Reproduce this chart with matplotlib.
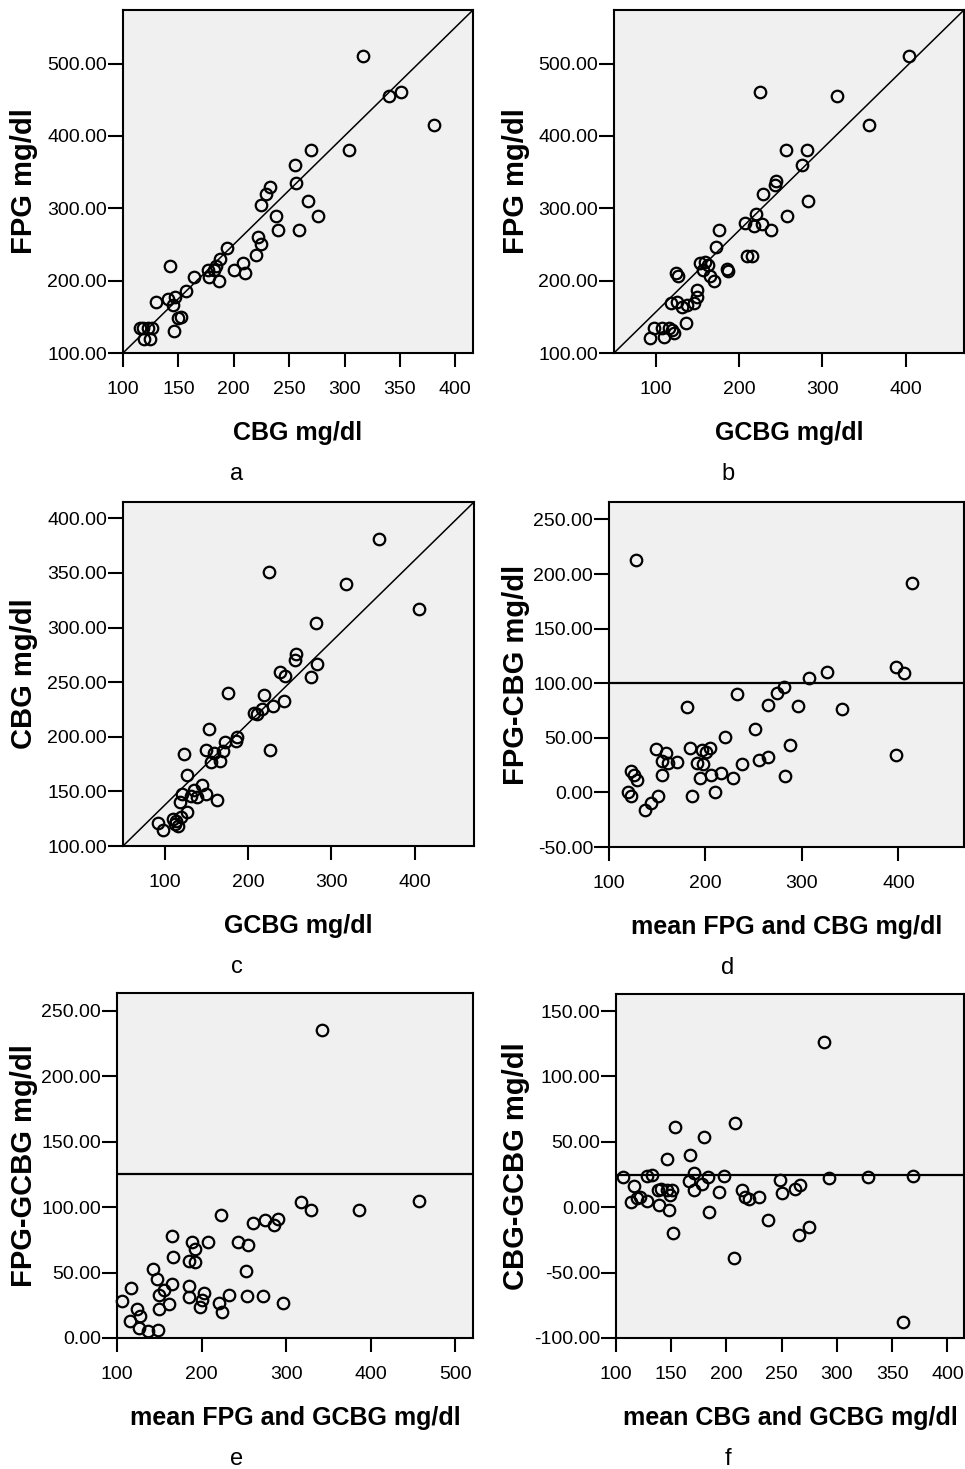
import matplotlib
matplotlib.use("Agg")
import matplotlib.pyplot as plt
from matplotlib.ticker import FormatStrFormatter

plt.rcParams['font.family'] = ['Liberation Sans', 'DejaVu Sans']

# ---------------- data ----------------
a_cbg = [317, 340, 351, 381, 304, 270, 255, 256, 233, 229, 225, 267, 238, 276, 240,
         259, 222, 225, 220, 194, 208, 210, 200, 188, 184, 182, 177, 178, 187, 164,
         142, 157, 147, 141, 145, 130, 152, 150, 146, 115, 118, 123, 126, 119, 124]
a_fpg = [510, 455, 460, 415, 380, 380, 360, 335, 330, 320, 305, 310, 290, 290, 270,
         270, 260, 250, 235, 245, 225, 210, 215, 230, 220, 215, 215, 205, 200, 205,
         220, 185, 177, 174, 167, 170, 150, 148, 130, 135, 135, 135, 135, 120, 120]

b_gcbg = [404, 225, 317, 356, 256, 282, 276, 244, 243, 229, 283, 257, 220, 207, 218,
          227, 238, 176, 172, 209, 215, 153, 159, 163, 157, 165, 170, 186, 187, 124,
          127, 149, 150, 146, 138, 132, 125, 118, 136, 98, 108, 116, 120, 122, 93, 110]
b_fpg = [510, 460, 455, 415, 380, 380, 360, 337, 332, 320, 310, 289, 292, 280, 276,
         278, 270, 270, 246, 234, 234, 225, 226, 222, 215, 206, 200, 216, 214, 210,
         206, 187, 177, 169, 167, 164, 171, 169, 141, 135, 135, 134, 132, 128, 121, 122]

c_gcbg = [357, 225, 317, 405, 282, 258, 256, 283, 276, 238, 244, 176, 219, 243, 230,
          207, 211, 217, 153, 187, 186, 172, 170, 149, 226, 123, 159, 155, 166, 127,
          145, 135, 131, 139, 150, 163, 121, 118, 127, 119, 110, 114, 116, 92, 98, 112]
c_cbg = [381, 351, 340, 317, 304, 276, 270, 267, 255, 259, 256, 240, 238, 233, 228,
         222, 221, 225, 207, 200, 196, 195, 187, 188, 188, 184, 185, 177, 178, 165,
         156, 151, 146, 145, 148, 142, 148, 140, 131, 127, 125, 123, 118, 121, 115, 120]

d_mean = [128, 414, 398, 406, 326, 307, 281, 274, 233, 265, 296, 181, 342, 251, 220,
          288, 184, 149, 196, 205, 201, 159, 398, 265, 255, 155, 161, 171, 191, 197,
          238, 123, 126, 129, 155, 206, 216, 194, 229, 282, 120, 123, 210, 186, 151,
          144, 137]
d_diff = [213, 192, 115, 109, 110, 105, 97, 91, 90, 80, 79, 78, 76, 58, 51,
          43, 41, 40, 39, 41, 37, 36, 34, 32, 30, 29, 27, 28, 27, 26,
          26, 20, 16, 11, 16, 16, 18, 13, 13, 15, 0, -3, 0, -3, -3,
          -10, -16]

e_mean = [342, 457, 318, 330, 386, 223, 261, 275, 290, 286, 165, 189, 192, 208, 243,
          255, 166, 185, 192, 143, 147, 252, 116, 165, 185, 156, 150, 203, 233, 254,
          273, 185, 200, 106, 161, 221, 296, 198, 224, 124, 127, 150, 115, 126, 137, 148]
e_diff = [235, 105, 104, 98, 98, 94, 88, 90, 91, 86, 78, 73, 68, 73, 73,
          71, 62, 59, 58, 53, 45, 51, 38, 41, 40, 37, 33, 34, 33, 32,
          32, 31, 29, 28, 26, 27, 27, 24, 20, 22, 17, 22, 13, 8, 5, 6]

f_mean = [288, 208, 153, 180, 167, 146, 106, 128, 133, 171, 183, 198, 248, 293, 328,
          369, 166, 178, 116, 141, 138, 146, 151, 171, 193, 214, 250, 262, 267, 149,
          119, 122, 114, 128, 217, 220, 229, 139, 148, 184, 238, 275, 266, 152, 207, 360]
f_diff = [126, 64, 61, 54, 40, 37, 23, 24, 25, 26, 23, 24, 21, 22, 23,
          24, 20, 18, 16, 14, 13, 13, 13, 13, 12, 13, 11, 14, 17, 9,
          7, 8, 4, 5, 8, 6, 8, 2, -2, -4, -10, -15, -21, -20, -39, -88]

d_ref = 100
e_ref = 125
f_ref = 25

panels = [
    dict(x=a_cbg, y=a_fpg, xl="CBG mg/dl", yl="FPG mg/dl", tag="a",
         xlim=(100, 416), ylim=(100, 574), xt=[100, 150, 200, 250, 300, 350, 400],
         yt=[100, 200, 300, 400, 500], diag=True, href=None,
         box=(123, 473, 10, 353), col=0),
    dict(x=b_gcbg, y=b_fpg, xl="GCBG mg/dl", yl="FPG mg/dl", tag="b",
         xlim=(50, 470), ylim=(100, 574), xt=[100, 200, 300, 400],
         yt=[100, 200, 300, 400, 500], diag=True, href=None,
         box=(614, 964, 10, 353), col=1),
    dict(x=c_gcbg, y=c_cbg, xl="GCBG mg/dl", yl="CBG mg/dl", tag="c",
         xlim=(50, 471), ylim=(100, 415), xt=[100, 200, 300, 400],
         yt=[100, 150, 200, 250, 300, 350, 400], diag=True, href=None,
         box=(123, 474, 502, 846), col=0),
    dict(x=d_mean, y=d_diff, xl="mean FPG and CBG mg/dl", yl="FPG-CBG mg/dl", tag="d",
         xlim=(100, 468), ylim=(-50, 266), xt=[100, 200, 300, 400],
         yt=[-50, 0, 50, 100, 150, 200, 250], diag=False, href=d_ref,
         box=(609, 964, 502, 847), col=1),
    dict(x=e_mean, y=e_diff, xl="mean FPG and GCBG mg/dl", yl="FPG-GCBG mg/dl", tag="e",
         xlim=(100, 521), ylim=(0, 263.5), xt=[100, 200, 300, 400, 500],
         yt=[0, 50, 100, 150, 200, 250], diag=False, href=e_ref,
         box=(117, 473, 993, 1338), col=0),
    dict(x=f_mean, y=f_diff, xl="mean CBG and GCBG mg/dl", yl="CBG-GCBG mg/dl", tag="f",
         xlim=(100, 415), ylim=(-100, 163), xt=[100, 150, 200, 250, 300, 350, 400],
         yt=[-100, -50, 0, 50, 100, 150], diag=False, href=f_ref,
         box=(616, 964, 994, 1338), col=1),
]

W, H = 965, 1469
fig = plt.figure(figsize=(W / 100, H / 100), dpi=100)
fig.patch.set_facecolor('white')


def fx(px):
    return px / W


def fy(py):
    return 1 - py / H


for p in panels:
    l, r, t, b = p["box"]
    ax = fig.add_axes([fx(l), fy(b), (r - l) / W, (b - t) / H])
    ax.set_facecolor('#f0f0f0')
    for s in ax.spines.values():
        s.set_linewidth(1.5)
        s.set_color('black')
    ax.set_xlim(*p["xlim"])
    ax.set_ylim(*p["ylim"])
    if p["diag"]:
        ax.plot(p["xlim"], p["ylim"], color='black', lw=1.1, zorder=2)
    if p["href"] is not None:
        ax.axhline(p["href"], color='black', lw=1.6, zorder=2)
    ax.plot(p["x"], p["y"], linestyle='none', marker='o', ms=8.3,
            mfc='none', mec='black', mew=1.6, zorder=3, clip_on=False)
    ax.set_xticks(p["xt"])
    ax.set_yticks(p["yt"])
    ax.yaxis.set_major_formatter(FormatStrFormatter('%.2f'))
    ax.tick_params(axis='x', direction='out', length=10, width=1.5, pad=10,
                   labelsize=14, colors='black')
    ax.tick_params(axis='y', direction='out', length=10.5, width=1.5, pad=1,
                   labelsize=14, colors='black')
    cx = (l + r) / 2
    cy = (t + b) / 2
    fig.text(fx(cx), fy(b + 87), p["xl"], ha='center', va='baseline',
             fontsize=18, fontweight='bold')
    ylx = 24 if p["col"] == 0 else 516
    fig.text(fx(ylx), fy(cy), p["yl"], ha='center', va='center', rotation=90,
             fontsize=21, fontweight='bold')
    tagx = 237 if p["col"] == 0 else 728
    fig.text(fx(tagx), fy(b + 127), p["tag"], ha='center', va='baseline',
             fontsize=17)

fig.savefig("out.png", dpi=100, facecolor='white')
